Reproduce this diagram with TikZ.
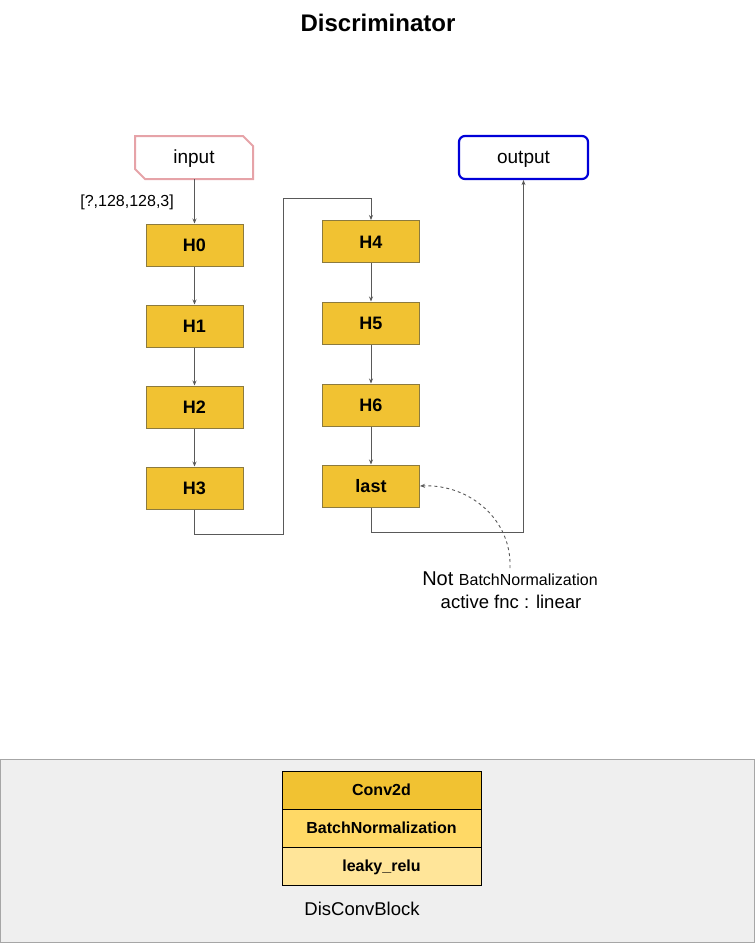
\documentclass[tikz,border=0pt]{standalone}
\usepackage{fontspec}
\setmainfont{Liberation Sans}
\usetikzlibrary{arrows.meta}
\definecolor{boxfill}{HTML}{F1C232}
\definecolor{boxline}{HTML}{8C7A3E}
\definecolor{rowtwo}{HTML}{FFD966}
\definecolor{rowthree}{HTML}{FFE599}
\definecolor{lnk}{HTML}{595959}
\definecolor{pinkline}{HTML}{E6A3A8}
\definecolor{blueline}{HTML}{0000D8}
\definecolor{panel}{HTML}{EFEFEF}
\tikzset{
  layerbox/.style={draw=boxline, fill=boxfill, line width=1pt, minimum width=97pt, minimum height=42pt, inner sep=0pt, text height=13pt, text depth=0pt, font=\fontsize{18}{20}\selectfont\bfseries},
  lnkline/.style={draw=lnk, line width=0.9pt, -{Stealth[length=5pt,width=4pt]}},
  rowbox/.style={draw=black, line width=0.8pt, minimum width=199pt, minimum height=38pt, inner sep=0pt, text height=12pt, text depth=2pt, font=\fontsize{16}{18}\selectfont\bfseries}
}
\begin{document}
\begin{tikzpicture}[x=1pt,y=-1pt]
\useasboundingbox (0,0) rectangle (755,943);
\node[font=\fontsize{24}{28}\selectfont\bfseries] (title) at (378,23) {Discriminator};
% input shape
\draw[pinkline, line width=2pt] (135,136) -- (243,136) -- (253,146) -- (253,179) -- (145,179) -- (135,169) -- cycle;
\node[font=\fontsize{19}{22}\selectfont, minimum width=118pt, minimum height=43pt, inner sep=0pt, text height=14pt, text depth=3pt] (input) at (194,157.5) {input};
\node[draw=blueline, line width=2.2pt, rounded corners=6pt, minimum width=129pt, minimum height=43pt, inner sep=0pt, text height=14pt, text depth=3pt, font=\fontsize{19}{22}\selectfont] (output) at (523.5,157.5) {output};
\node[layerbox] (H0) at (194.5,245) {H0};
\node[layerbox] (H1) at (194.5,326) {H1};
\node[layerbox] (H2) at (194.5,407) {H2};
\node[layerbox] (H3) at (194.5,488) {H3};
\node[layerbox] (H4) at (371,241.5) {H4};
\node[layerbox] (H5) at (371,323) {H5};
\node[layerbox] (H6) at (371,405) {H6};
\node[layerbox] (last) at (371,486) {last};
\node[font=\fontsize{16}{18}\selectfont, anchor=east, inner sep=0pt] (shape) at (174,202) {[?,128,128,3]};
\draw[lnkline] (input.south -| H0.north) -- (H0.north);
\draw[lnkline] (H0) -- (H1);
\draw[lnkline] (H1) -- (H2);
\draw[lnkline] (H2) -- (H3);
\coordinate (c1) at (194.5,534);
\coordinate (c2) at (283,534);
\coordinate (c3) at (283,198);
\coordinate (c4) at (371,198);
\draw[lnkline] (H3.south) -- (c1) -- (c2) -- (c3) -- (c4) -- (H4.north);
\draw[lnkline] (H4) -- (H5);
\draw[lnkline] (H5) -- (H6);
\draw[lnkline] (H6) -- (last);
\coordinate (d1) at (371,532);
\coordinate (d2) at (523.5,532);
\draw[lnkline] (last.south) -- (d1) -- (d2) -- (output.south);
\node[inner sep=0pt] (note) at (510,579) {{\fontsize{20}{22}\selectfont Not }{\fontsize{16}{22}\selectfont BatchNormalization}};
\node[inner sep=0pt, font=\fontsize{18.5}{22}\selectfont] (note2) at (511,602) {active fnc : linear};
\draw[lnk, line width=0.9pt, dashed, -{Stealth[length=5pt,width=4pt]}] (510,568) .. controls (512,520) and (470,484) .. (last.east);
% bottom panel
\draw[fill=panel, draw=gray!70, line width=0.8pt] (0.5,759) rectangle (754.5,942.5);
\node[rowbox, fill=boxfill] (conv) at (381.5,790) {Conv2d};
\node[rowbox, fill=rowtwo] (bn) at (381.5,828) {BatchNormalization};
\node[rowbox, fill=rowthree] (lrelu) at (381.5,866) {leaky\_relu};
\node[font=\fontsize{18.5}{22}\selectfont] (dcb) at (362,909) {DisConvBlock};
\end{tikzpicture}
\end{document}
